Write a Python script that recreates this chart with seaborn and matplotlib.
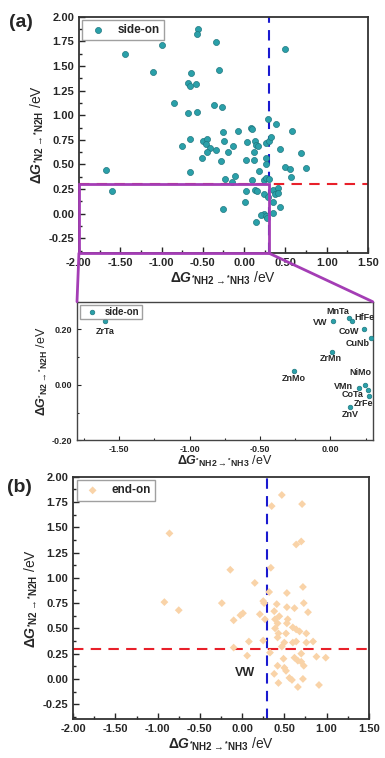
import seaborn as sns
import matplotlib.pyplot as plt
import matplotlib.ticker as mticker
from matplotlib.patches import Rectangle, ConnectionPatch
import pandas as pd
import numpy as np

# side-on points (unlabelled)
side_x = [-1.44, -1.00, -1.10, -0.56, -0.57, -0.34, -0.64, -0.31, -0.68, -0.66, -0.58,
          -0.85, -0.68, -0.57, -0.36, -0.27, 0.50, 0.29, 0.38, 0.08, 0.10, -0.08, -0.25,
          0.58, -0.65, -0.75, -0.50, -0.45, -0.46, -0.41, -0.34, -0.45, -0.51, -0.24,
          -0.13, -0.20, -0.28, 0.04, 0.13, 0.14, 0.17, 0.26, 0.30, 0.33, 0.43, 0.69,
          0.12, 0.02, 0.12, 0.26, 0.26, 0.50, 0.55, 0.75, 0.57, -0.66, 0.18, -0.11,
          -0.23, -0.15, 0.10, 0.24, 0.27, 0.30, 0.35, 0.37, 0.41, 0.41, 0.35, 0.43,
          0.35, -1.67]
side_y = [1.62, 1.71, 1.44, 1.87, 1.82, 1.74, 1.43, 1.46, 1.33, 1.30, 1.32,
          1.12, 1.02, 1.03, 1.10, 1.08, 1.67, 0.96, 0.91, 0.87, 0.86, 0.84, 0.83,
          0.84, 0.76, 0.69, 0.74, 0.76, 0.71, 0.67, 0.65, 0.63, 0.57, 0.74,
          0.69, 0.63, 0.54, 0.73, 0.74, 0.70, 0.69, 0.72, 0.74, 0.78, 0.66, 0.62,
          0.63, 0.55, 0.55, 0.57, 0.50, 0.47, 0.45, 0.46, 0.37, 0.42, 0.43, 0.38,
          0.35, 0.32, 0.34, 0.34, 0.36, 0.35, 0.24, 0.20, 0.26, 0.21, 0.12, 0.07,
          0.01, 0.44]

# side-on points shown in the zoomed inset
zoom_names = ['ZrTa', 'ZnMo', 'ZrMn', 'VW', 'MnTa', 'HfFe', 'CoW', 'CuNb',
              'NiMo', 'VMn', 'CoTa', 'ZrFe', 'ZnV']
zoom_x = [-1.60, -0.26, 0.01, 0.02, 0.135, 0.15, 0.24, 0.29, 0.245, 0.20, 0.265, 0.275, 0.14]
zoom_y = [0.23, 0.05, 0.12, 0.23, 0.24, 0.23, 0.20, 0.17, 0.00, -0.01, -0.02, -0.04, -0.08]

# end-on points
end_x = [0.47, 0.35, 0.71, -0.86, 0.64, 0.70, -0.14, 0.34, 0.15, 0.72, 0.32, 0.53,
         -0.92, -0.24, 0.25, 0.26, 0.41, 0.53, 0.62, 0.73, -0.75, 0.78, 0.38, 0.44,
         0.01, -0.02, 0.21, -0.10, 0.27, 0.39, 0.54, 0.42, 0.53, 0.39, 0.52, 0.60,
         0.64, 0.68, 0.43, 0.76, 0.42, 0.08, 0.25, -0.10, 0.50, 0.60, 0.64, 0.76,
         0.84, 0.47, 0.33, 0.06, 0.70, 0.49, 0.62, 0.66, 0.70, 0.73, 0.88, 0.99,
         0.42, 0.50, 0.52, 0.38, 0.56, 0.59, 0.72, 0.43, 0.66, 0.91]
end_y = [1.82, 1.71, 1.73, 1.44, 1.33, 1.36, 1.08, 1.10, 0.95, 0.91, 0.86, 0.85,
         0.76, 0.75, 0.77, 0.75, 0.74, 0.71, 0.70, 0.75, 0.68, 0.66, 0.67, 0.62,
         0.65, 0.63, 0.64, 0.58, 0.59, 0.59, 0.59, 0.55, 0.55, 0.50, 0.45, 0.51,
         0.49, 0.47, 0.45, 0.45, 0.41, 0.37, 0.38, 0.31, 0.36, 0.36, 0.37, 0.36,
         0.37, 0.32, 0.26, 0.23, 0.25, 0.20, 0.21, 0.18, 0.17, 0.13, 0.22, 0.21,
         0.13, 0.11, 0.08, 0.05, 0.01, -0.01, 0.00, -0.04, -0.08, -0.06]

# label offsets in pixels for the inset names
label_off = [(0, -10), (0, -7), (-1, -7), (-13, -1), (-12, 7), (13, 4), (-15, -2),
             (-14, -6), (-5, 12), (-15, 1), (-15, -4), (-6, -7), (0, -7)]

side_df = pd.DataFrame({'x': side_x + zoom_x, 'y': side_y + zoom_y, 'type': 'side-on'})
zoom_df = pd.DataFrame({'x': zoom_x, 'y': zoom_y, 'type': 'side-on'})
end_df = pd.DataFrame({'x': end_x, 'y': end_y, 'type': 'end-on'})

sns.set_style('ticks')
plt.rcParams['font.family'] = ['Liberation Sans', 'DejaVu Sans']
plt.rcParams['font.weight'] = 'bold'
plt.rcParams['mathtext.fontset'] = 'custom'
plt.rcParams['mathtext.rm'] = 'Liberation Sans'
plt.rcParams['mathtext.bf'] = 'Liberation Sans:bold'
plt.rcParams['mathtext.it'] = 'Liberation Sans:italic'
plt.rcParams['mathtext.bfit'] = 'Liberation Sans:italic:bold'

teal = '#2aa0a9'
teal_edge = '#1f7880'
peach = '#f9d3a8'
purple = '#a43db5'

xlab = r'$\mathbf{\Delta}\mathbfit{G}_{\mathbf{{}^{*}NH2\rightarrow{}^{*}NH3}}$ /eV'
ylab = r'$\mathbf{\Delta}\mathbfit{G}_{\mathbf{{}^{*}N2\rightarrow{}^{*}N2H}}$ /eV'

fig = plt.figure(figsize=(3.85, 7.58), dpi=100)
ax1 = fig.add_axes([0.205, 0.666, 0.751, 0.312])
ax2 = fig.add_axes([0.200, 0.419, 0.768, 0.183])
ax3 = fig.add_axes([0.190, 0.051, 0.768, 0.320])


def style_main(ax):
    ax.set_xlim(-2.0, 1.5)
    ax.set_ylim(-0.4, 2.0)
    ax.xaxis.set_major_locator(mticker.MultipleLocator(0.5))
    ax.xaxis.set_minor_locator(mticker.MultipleLocator(0.25))
    ax.yaxis.set_major_locator(mticker.MultipleLocator(0.25))
    ax.yaxis.set_minor_locator(mticker.MultipleLocator(0.125))
    ax.xaxis.set_major_formatter(mticker.FormatStrFormatter('%.2f'))
    ax.yaxis.set_major_formatter(mticker.FormatStrFormatter('%.2f'))
    ax.tick_params(which='both', direction='in', labelsize=8, width=1)
    ax.tick_params(which='major', length=4)
    ax.tick_params(which='minor', length=2)
    for lbl in ax.get_xticklabels() + ax.get_yticklabels():
        lbl.set_fontweight('bold')
    for s in ax.spines.values():
        s.set_linewidth(1.3)
        s.set_color('#333333')
    ax.axhline(0.3, color='#e8202a', lw=1.5, ls=(0, (5, 3.5)), zorder=1)
    ax.axvline(0.3, color='#1a1ad0', lw=1.5, ls=(0, (5, 3.5)), zorder=1)


# (a) side-on
style_main(ax1)
sns.scatterplot(data=side_df, x='x', y='y', ax=ax1, color=teal, edgecolor=teal_edge,
                linewidth=0.5, s=19, label='side-on', zorder=3)
ax1.set_xlabel(xlab, fontsize=10, labelpad=1)
ax1.set_ylabel(ylab, fontsize=10, labelpad=2)
ax1.add_patch(Rectangle((-2.0, -0.4), 2.3, 0.7, fill=False, edgecolor=purple,
                        lw=2, zorder=4, clip_on=False))
ax1.legend(loc='upper left', frameon=True, fancybox=False,
           edgecolor='#888888', handletextpad=0.6, borderpad=0.35,
           borderaxespad=0.3, prop={'weight': 'bold', 'size': 8.5})
ax1.text(-0.2, 0.975, '(a)', transform=ax1.transAxes, fontsize=14,
         fontweight='bold', ha='center', va='center')

# zoomed inset
sns.scatterplot(data=zoom_df, x='x', y='y', ax=ax2, color=teal, edgecolor=teal_edge,
                linewidth=0.5, s=11, label='side-on', zorder=3)
ax2.set_xlim(-1.8, 0.3)
ax2.set_ylim(-0.2, 0.3)
ax2.xaxis.set_major_locator(mticker.MultipleLocator(0.5))
ax2.xaxis.set_minor_locator(mticker.MultipleLocator(0.25))
ax2.yaxis.set_major_locator(mticker.MultipleLocator(0.2))
ax2.yaxis.set_minor_locator(mticker.MultipleLocator(0.1))
ax2.xaxis.set_major_formatter(mticker.FormatStrFormatter('%.2f'))
ax2.yaxis.set_major_formatter(mticker.FormatStrFormatter('%.2f'))
ax2.tick_params(which='both', direction='in', labelsize=6.5, width=0.8)
ax2.tick_params(which='major', length=3)
ax2.tick_params(which='minor', length=1.5)
for lbl in ax2.get_xticklabels() + ax2.get_yticklabels():
    lbl.set_fontweight('bold')
for s in ax2.spines.values():
    s.set_linewidth(1)
    s.set_color('#444444')
ax2.set_xlabel(xlab, fontsize=9, labelpad=0)
ax2.set_ylabel(ylab, fontsize=9, labelpad=1)
for name, x, y, off in zip(zoom_names, zoom_x, zoom_y, label_off):
    ax2.annotate(name, (x, y), xytext=off, textcoords='offset pixels',
                 ha='center', va='center', fontsize=6.5, fontweight='bold')
ax2.legend(loc='upper left', frameon=True, fancybox=False, edgecolor='#888888',
           handletextpad=0.3, borderpad=0.25, borderaxespad=0.3,
           prop={'weight': 'bold', 'size': 7})

# purple connectors from the boxed region to the inset
fig.add_artist(ConnectionPatch(xyA=(-2.0, -0.4), coordsA=ax1.transData,
                               xyB=(-1.8, 0.3), coordsB=ax2.transData,
                               color=purple, lw=2))
fig.add_artist(ConnectionPatch(xyA=(0.3, -0.4), coordsA=ax1.transData,
                               xyB=(0.3, 0.3), coordsB=ax2.transData,
                               color=purple, lw=2))

# (b) end-on
style_main(ax3)
sns.scatterplot(data=end_df, x='x', y='y', ax=ax3, color=peach, marker='D',
                edgecolor='none', s=16, label='end-on', zorder=3)
ax3.set_xlabel(xlab, fontsize=10, labelpad=1)
ax3.set_ylabel(ylab, fontsize=10, labelpad=2)
ax3.text(0.03, 0.06, 'VW', fontsize=9, fontweight='bold', ha='center', va='center')
ax3.legend(loc='upper left', frameon=True, fancybox=False, edgecolor='#888888',
           handletextpad=0.6, borderpad=0.35, borderaxespad=0.3,
           prop={'weight': 'bold', 'size': 8.5})
ax3.text(-0.18, 0.955, '(b)', transform=ax3.transAxes, fontsize=14,
         fontweight='bold', ha='center', va='center')

plt.savefig('out.png', dpi=100)
